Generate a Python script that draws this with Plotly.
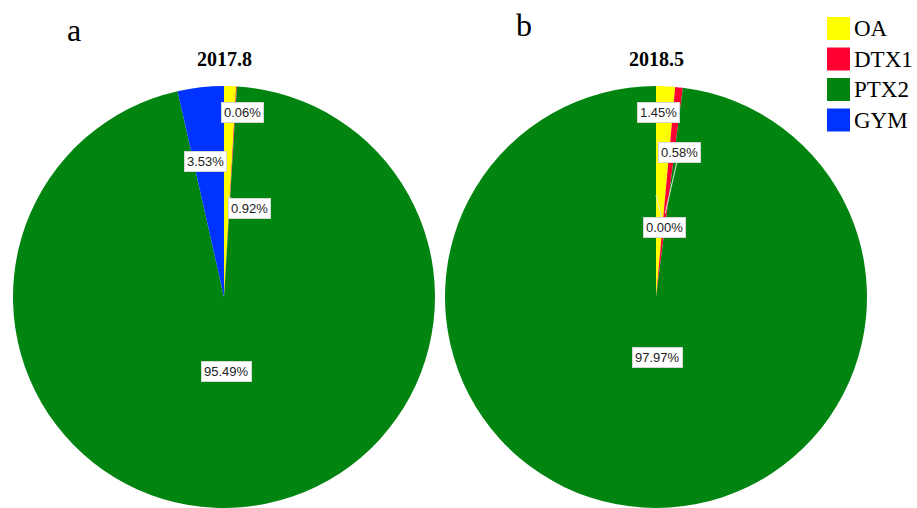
import math
import plotly.graph_objects as go

W, H = 917, 508

# Toxin composition (percent of total) for the two sampling dates
categories = ["OA", "DTX1", "PTX2", "GYM"]
colors = ["#FFFF00", "#FF0033", "#028410", "#0033FF"]
share_2017 = [0.92, 0.06, 95.49, 3.53]
share_2018 = [1.45, 0.58, 97.97, 0.00]
titles = ["2017.8", "2018.5"]
panel_tags = ["a", "b"]

# Pie placement in pixels: centre x, centre y, radius
pie_cx = [224, 656]
pie_cy = [297, 297]
pie_r = [211, 211]
tag_pos = [(74, 30), (524, 25)]
title_y = 59

# Label placement per slice: anchor radius (fraction of R), box offset (px), leader line
label_layout = [
    [(0.48, 23, 13, True), (0.877, 7, 0, False), (0.355, -3, 0, False), (0.645, -3, 0, False)],
    [(0.877, -6, 0, False), (0.40, 14, -61, True), (0.285, 5, 0, False), (0.483, 8, 32, True)],
]

SERIF = "Liberation Serif, Times New Roman, serif"
SANS = "Liberation Sans, Arial, sans-serif"

fig = go.Figure()
annotations = []
shapes = []

for i, values in enumerate([share_2017, share_2018]):
    cx, cy, r = pie_cx[i], pie_cy[i], pie_r[i]
    fig.add_trace(go.Pie(
        labels=categories,
        values=values,
        marker=dict(colors=colors, line=dict(width=0)),
        sort=False,
        direction="clockwise",
        rotation=0,
        textinfo="none",
        showlegend=False,
        domain=dict(x=[(cx - r) / W, (cx + r) / W],
                    y=[max(0.0, 1 - (cy + r) / H), 1 - (cy - r) / H]),
    ))

    # percentage labels placed from each slice's mid angle
    total = sum(values)
    cum = 0.0
    for j, v in enumerate(values):
        mid = (cum + v / 2) / total * 2 * math.pi
        cum += v
        rf, dx, dy, leader = label_layout[i][j]
        px = cx + rf * r * math.sin(mid)
        py = cy - rf * r * math.cos(mid)
        ann = dict(
            x=px / W, y=1 - py / H, xref="paper", yref="paper",
            text=f"{v:.2f}%",
            font=dict(family=SANS, size=13, color="#222222"),
            bgcolor="white", bordercolor="#d6d6d6", borderwidth=1, borderpad=2,
        )
        if leader:
            ann.update(showarrow=True, ax=dx, ay=dy, arrowhead=0,
                       arrowwidth=1, arrowcolor="#d8e8d8")
        else:
            ann.update(showarrow=False, xshift=dx, yshift=-dy,
                       xanchor="center", yanchor="middle")
        annotations.append(ann)

    annotations.append(dict(
        x=cx / W, y=1 - title_y / H, xref="paper", yref="paper",
        xanchor="center", yanchor="middle",
        text=f"<b>{titles[i]}</b>", showarrow=False,
        font=dict(family=SERIF, size=20, color="black"),
    ))
    tx, ty = tag_pos[i]
    annotations.append(dict(
        x=tx / W, y=1 - ty / H, xref="paper", yref="paper",
        xanchor="center", yanchor="middle",
        text=panel_tags[i], showarrow=False,
        font=dict(family=SERIF, size=32, color="black"),
    ))

# legend: colour boxes with category names
box_x0, box_y0, box_size, box_step = 827, 17, 23, 30.5
for k, (name, col) in enumerate(zip(categories, colors)):
    y0 = box_y0 + k * box_step
    shapes.append(dict(
        type="rect", xref="paper", yref="paper",
        x0=box_x0 / W, x1=(box_x0 + box_size) / W,
        y0=1 - (y0 + box_size) / H, y1=1 - y0 / H,
        fillcolor=col, line=dict(width=0),
    ))
    annotations.append(dict(
        x=(box_x0 + box_size + 2) / W, y=1 - (y0 + box_size / 2) / H,
        xref="paper", yref="paper", xanchor="left", yanchor="middle",
        text=name, showarrow=False,
        font=dict(family=SERIF, size=23, color="black"),
    ))

fig.update_layout(
    width=W, height=H,
    margin=dict(l=0, r=0, t=0, b=0),
    paper_bgcolor="white", plot_bgcolor="white",
    annotations=annotations, shapes=shapes,
)

fig.write_html("out.html")
